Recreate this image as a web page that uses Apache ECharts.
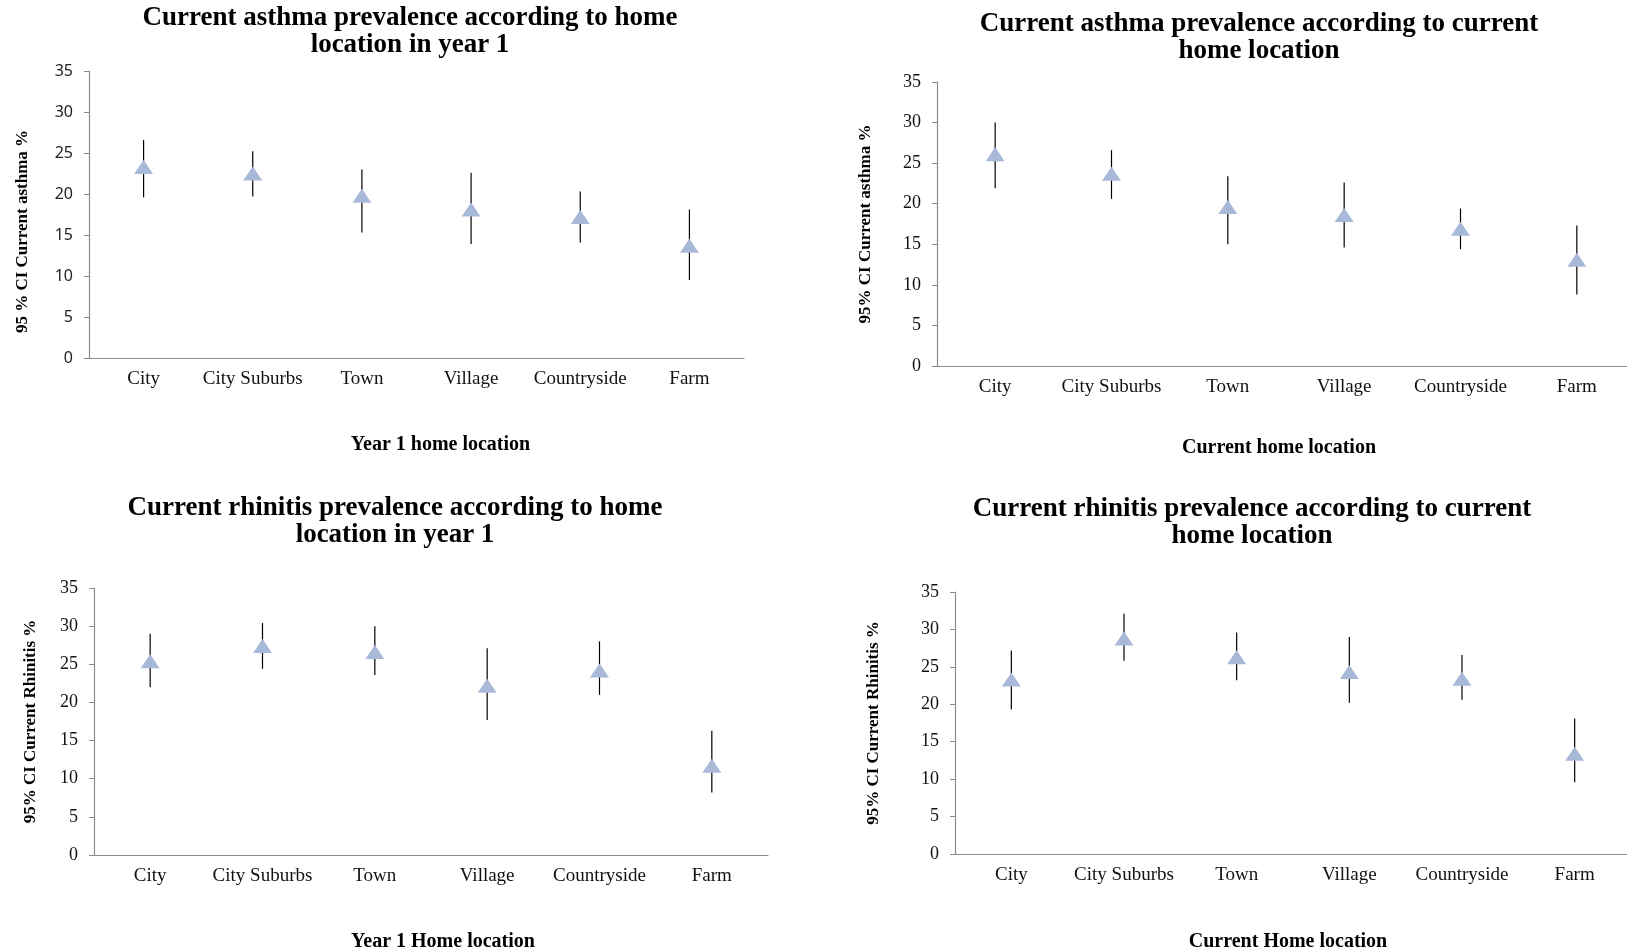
<!DOCTYPE html>
<html>
<head>
<meta charset="utf-8">
<title>Asthma and rhinitis prevalence by home location</title>
<script src="https://cdn.jsdelivr.net/npm/echarts@6/dist/echarts.min.js"></script>
<style>
  html, body { margin: 0; padding: 0; background: #fff; }
  #myChart { width: 1627px; height: 952px; }
</style>
</head>
<body>
<div id="myChart"></div>
<script>
const categories = ["City", "City Suburbs", "Town", "Village", "Countryside", "Farm"];
const yTicks = [0, 5, 10, 15, 20, 25, 30, 35];

// asthma by year 1 home location
const asthmaYear1 = [23.3, 22.5, 19.8, 18.1, 17.2, 13.7];
const asthmaYear1Low = [19.6, 19.7, 15.3, 13.9, 14.1, 9.5];
const asthmaYear1High = [26.6, 25.2, 23.0, 22.6, 20.3, 18.1];

// asthma by current home location
const asthmaCurrent = [26.1, 23.7, 19.6, 18.6, 16.9, 13.1];
const asthmaCurrentLow = [21.9, 20.6, 15.0, 14.6, 14.4, 8.8];
const asthmaCurrentHigh = [30.0, 26.6, 23.4, 22.6, 19.4, 17.3];

// rhinitis by year 1 home location
const rhinitisYear1 = [25.4, 27.4, 26.6, 22.2, 24.2, 11.7];
const rhinitisYear1Low = [22.0, 24.4, 23.6, 17.7, 21.0, 8.2];
const rhinitisYear1High = [29.0, 30.4, 30.0, 27.1, 28.0, 16.3];

// rhinitis by current home location
const rhinitisCurrent = [23.3, 28.8, 26.3, 24.3, 23.4, 13.4];
const rhinitisCurrentLow = [19.3, 25.8, 23.2, 20.2, 20.6, 9.6];
const rhinitisCurrentHigh = [27.2, 32.1, 29.6, 29.0, 26.6, 18.1];

const serif = "Liberation Serif";
const markerColor = "#a8b8d8";
const axisGray = "#8c8c8c";

const panels = [
    {
        title: "Current asthma prevalence according to home\nlocation in year 1",
        titleX: 405, titleY: 0,
        grid: { left: 89, top: 71, width: 655, height: 287 },
        xName: "Year 1 home location", xNameGap: 77, xNamePad: [0, 0, 0, 48],
        yName: "95 % CI Current asthma %", yNameGap: 58, yNamePad: [0, 34, 0, 0],
        tickFont: { fontFamily: "Noto Sans", fontSize: 16, color: "#222" },
        mid: asthmaYear1, low: asthmaYear1Low, high: asthmaYear1High,
    },
    {
        title: "Current asthma prevalence according to current\nhome location",
        titleX: 1254, titleY: 6,
        grid: { left: 937, top: 82, width: 698, height: 284 },
        xName: "Current home location", xNameGap: 72, xNamePad: [0, 14, 0, 0],
        yName: "95% CI Current asthma %", yNameGap: 63, yNamePad: 0,
        tickFont: { fontFamily: serif, fontSize: 18, color: "#111" },
        mid: asthmaCurrent, low: asthmaCurrentLow, high: asthmaCurrentHigh,
    },
    {
        title: "Current rhinitis prevalence according to home\nlocation in year 1",
        titleX: 390, titleY: 490,
        grid: { left: 94, top: 588, width: 674, height: 267 },
        xName: "Year 1 Home location", xNameGap: 77, xNamePad: [0, 0, 0, 24],
        yName: "95% CI Current Rhinitis %", yNameGap: 55, yNamePad: 0,
        tickFont: { fontFamily: serif, fontSize: 18, color: "#111" },
        mid: rhinitisYear1, low: rhinitisYear1Low, high: rhinitisYear1High,
    },
    {
        title: "Current rhinitis prevalence according to current\nhome location",
        titleX: 1247, titleY: 491,
        grid: { left: 955, top: 592, width: 676, height: 262 },
        xName: "Current Home location", xNameGap: 78, xNamePad: [0, 10, 0, 0],
        yName: "95% CI Current Rhinitis %", yNameGap: 73, yNamePad: 0,
        tickFont: { fontFamily: serif, fontSize: 18, color: "#111" },
        mid: rhinitisCurrent, low: rhinitisCurrentLow, high: rhinitisCurrentHigh,
    },
];

const renderErrorBar = (params, api) => {
    const top = api.coord([api.value(0), api.value(2)]);
    const bottom = api.coord([api.value(0), api.value(1)]);
    return {
        type: "line",
        shape: { x1: top[0], y1: top[1], x2: bottom[0], y2: bottom[1] },
        style: { stroke: "#000", lineWidth: 1.2 },
    };
};

const options = {
    animation: false,
    backgroundColor: "#fff",
    title: panels.map((p) => ({
        text: p.title,
        left: p.titleX,
        top: p.titleY,
        textAlign: "center",
        textStyle: {
            fontFamily: serif,
            fontWeight: "bold",
            fontSize: 27,
            lineHeight: 27,
            color: "#000",
        },
    })),
    // the right-hand plots run off the edge of the picture, so no clamping
    grid: panels.map((p) => Object.assign({ outerBoundsMode: "none" }, p.grid)),
    xAxis: panels.map((p, i) => ({
        type: "category",
        gridIndex: i,
        data: categories,
        name: p.xName,
        nameLocation: "middle",
        nameGap: p.xNameGap,
        nameTextStyle: {
            fontFamily: serif,
            fontWeight: "bold",
            fontSize: 20,
            color: "#000",
            padding: p.xNamePad,
        },
        axisLine: { lineStyle: { color: axisGray, width: 1.2 } },
        axisTick: { alignWithLabel: true, length: 5, lineStyle: { color: "#555" } },
        axisLabel: {
            fontFamily: serif,
            fontSize: 19,
            color: "#111",
            margin: 12,
            interval: 0,
        },
        splitLine: { show: false },
    })),
    yAxis: panels.map((p, i) => ({
        type: "value",
        gridIndex: i,
        min: yTicks[0],
        max: yTicks[yTicks.length - 1],
        interval: yTicks[1] - yTicks[0],
        name: p.yName,
        nameLocation: "middle",
        nameRotate: 90,
        nameGap: p.yNameGap,
        nameTextStyle: {
            fontFamily: serif,
            fontWeight: "bold",
            fontSize: 17,
            color: "#000",
            padding: p.yNamePad,
        },
        axisLine: { show: true, lineStyle: { color: axisGray, width: 1.2 } },
        axisTick: { show: true, length: 5, lineStyle: { color: axisGray } },
        axisLabel: Object.assign({ margin: 16 }, p.tickFont),
        splitLine: { show: false },
    })),
    series: [],
};

panels.forEach((p, i) => {
    options.series.push({
        type: "custom",
        xAxisIndex: i,
        yAxisIndex: i,
        renderItem: renderErrorBar,
        data: categories.map((c, j) => [j, p.low[j], p.high[j]]),
        z: 1,
        silent: true,
    });
    options.series.push({
        type: "scatter",
        xAxisIndex: i,
        yAxisIndex: i,
        symbol: "triangle",
        symbolSize: [19, 14],
        itemStyle: { color: markerColor, opacity: 1 },
        data: p.mid,
        z: 2,
    });
});

const myChart = echarts.init(document.getElementById("myChart"), null, {
    width: 1627,
    height: 952,
});
myChart.setOption(options);
</script>
</body>
</html>
